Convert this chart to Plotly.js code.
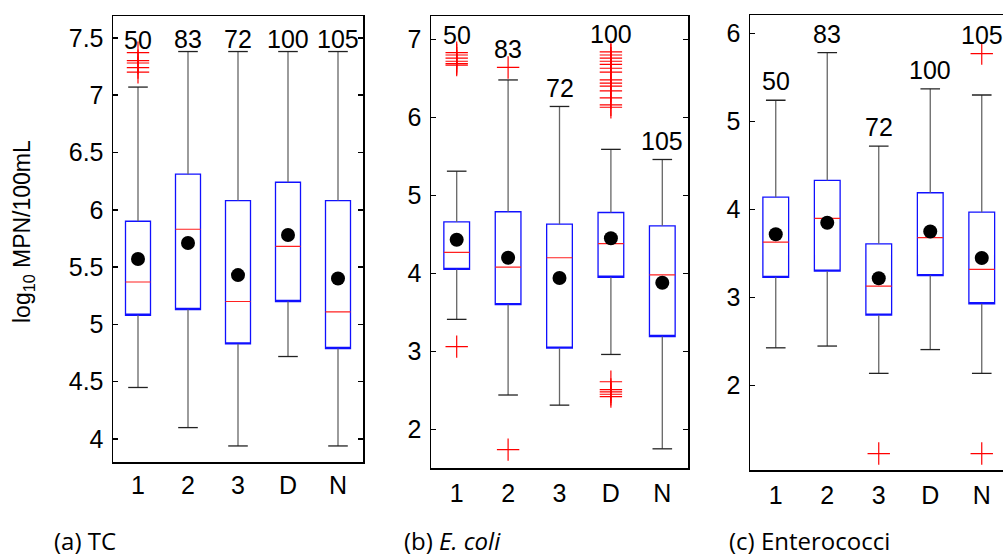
<!DOCTYPE html>
<html><head><meta charset="utf-8">
<script src="https://cdn.plot.ly/plotly-3.0.1.min.js"></script>
<style>html,body{margin:0;padding:0;overflow:hidden;background:#fff}#chart{width:1010px;height:558px}</style>
</head><body><div id="chart"></div>
<script>
const categories = ['1','2','3','D','N'];
const counts = [50, 83, 72, 100, 105];

// (a) TC
const tcQ1     = [5.08, 5.13, 4.83, 5.20, 4.79];
const tcMedian = [5.37, 5.83, 5.20, 5.68, 5.11];
const tcQ3     = [5.90, 6.31, 6.08, 6.24, 6.08];
const tcLower  = [4.45, 4.10, 3.94, 4.72, 3.94];
const tcUpper  = [7.07, 7.38, 7.38, 7.38, 7.38];
const tcMean   = [5.57, 5.71, 5.43, 5.78, 5.40];
const tcOutliers = [[7.37, 7.30, 7.28, 7.24, 7.20], [], [], [], []];

// (b) E. coli
const ecQ1     = [4.05, 3.60, 3.04, 3.95, 3.19];
const ecMedian = [4.27, 4.08, 4.20, 4.38, 3.98];
const ecQ3     = [4.66, 4.79, 4.63, 4.78, 4.61];
const ecLower  = [3.41, 2.44, 2.31, 2.96, 1.75];
const ecUpper  = [5.31, 6.48, 6.14, 5.59, 5.46];
const ecMean   = [4.43, 4.20, 3.94, 4.45, 3.88];
const ecOutliers = [
  [6.83, 6.80, 6.76, 6.72, 6.69, 6.67, 3.06],
  [6.64, 1.74],
  [],
  [6.84, 6.80, 6.76, 6.72, 6.68, 6.63, 6.58, 6.48, 6.44, 6.40, 6.34, 6.25, 6.16, 6.13, 2.61, 2.51, 2.48, 2.45, 2.42],
  []
];

// (c) Enterococci
const enQ1     = [3.23, 3.30, 2.80, 3.25, 2.93];
const enMedian = [3.63, 3.90, 3.13, 3.68, 3.32];
const enQ3     = [4.14, 4.33, 3.61, 4.19, 3.97];
const enLower  = [2.43, 2.45, 2.14, 2.41, 2.14];
const enUpper  = [5.24, 5.78, 4.72, 5.37, 5.30];
const enMean   = [3.72, 3.85, 3.22, 3.75, 3.45];
const enOutliers = [[], [], [1.23], [], [5.77, 1.23]];

const yTickVals = {
  a: [4, 4.5, 5, 5.5, 6, 6.5, 7, 7.5],
  b: [2, 3, 4, 5, 6, 7],
  c: [2, 3, 4, 5, 6]
};
const captions = ['(a) TC', '(b) <i>E. coli</i>', '(c) Enterococci'];
const yTitle = 'log<sub>10</sub> MPN/100mL';

const W = 1010, H = 558;
const FONT = 'Liberation Sans, Arial, sans-serif';

const panels = [
  {q1: tcQ1, med: tcMedian, q3: tcQ3, lo: tcLower, hi: tcUpper, mean: tcMean, out: tcOutliers,
   ticks: yTickVals.a, range: [3.8, 7.69], px: [113, 363], py: [16, 462], labShift: 10, xStand: 0},
  {q1: ecQ1, med: ecMedian, q3: ecQ3, lo: ecLower, hi: ecUpper, mean: ecMean, out: ecOutliers,
   ticks: yTickVals.b, range: [1.504, 7.30], px: [431, 688], py: [16, 468], labShift: 15, xStand: 2},
  {q1: enQ1, med: enMedian, q3: enQ3, lo: enLower, hi: enUpper, mean: enMean, out: enOutliers,
   ticks: yTickVals.c, range: [1.043, 6.208], px: [750, 1007.5], py: [15, 470], labShift: 16, xStand: 2}
];

const traces = [];
const layout = {
  width: W, height: H, margin: {l: 0, r: 0, t: 0, b: 0},
  paper_bgcolor: '#fff', plot_bgcolor: '#fff', showlegend: false,
  font: {family: FONT, size: 25, color: '#000'},
  annotations: []
};

panels.forEach((p, i) => {
  const n = i === 0 ? '' : String(i + 1);
  const xa = 'x' + n, ya = 'y' + n;
  const common = {xaxis: xa, yaxis: ya, hoverinfo: 'skip'};

  // blue boxes
  traces.push(Object.assign({
    type: 'box', x: categories, q1: p.q1, median: p.q1, q3: p.q3,
    lowerfence: p.q1, upperfence: p.q3, width: 0.5, whiskerwidth: 0,
    boxpoints: false, fillcolor: 'rgba(255,255,255,0)',
    line: {color: '#1010ff', width: 1.3}
  }, common));
  // red medians
  traces.push(Object.assign({
    type: 'box', x: categories, q1: p.med, median: p.med, q3: p.med,
    lowerfence: p.med, upperfence: p.med, width: 0.5, whiskerwidth: 0,
    boxpoints: false, fillcolor: 'rgba(255,255,255,0)',
    line: {color: '#ff2020', width: 1.2}
  }, common));
  // whiskers
  const wx = [], wy = [];
  categories.forEach((c, k) => {
    wx.push(c, c, null, c, c, null);
    wy.push(p.q3[k], p.hi[k], null, p.q1[k], p.lo[k], null);
  });
  traces.push(Object.assign({
    type: 'scatter', mode: 'lines', x: wx, y: wy,
    line: {color: '#666', width: 1.3}
  }, common));
  // caps
  traces.push(Object.assign({
    type: 'scatter', mode: 'markers', x: categories.concat(categories), y: p.hi.concat(p.lo),
    marker: {symbol: 'line-ew', size: 14, line: {color: '#222', width: 1.3}}
  }, common));
  // outliers
  const ox = [], oy = [];
  p.out.forEach((arr, k) => arr.forEach(v => { ox.push(categories[k]); oy.push(v); }));
  traces.push(Object.assign({
    type: 'scatter', mode: 'markers', x: ox, y: oy,
    marker: {symbol: 'cross-thin', size: 16, line: {color: '#ff0000', width: 1.2}}
  }, common));
  // means
  traces.push(Object.assign({
    type: 'scatter', mode: 'markers', x: categories, y: p.mean,
    marker: {symbol: 'circle', size: 14, color: '#000'}
  }, common));

  layout['xaxis' + n] = {
    domain: [p.px[0] / W, p.px[1] / W], anchor: ya,
    type: 'category', categoryarray: categories, range: [-0.5, 4.5],
    showline: true, linecolor: '#000', linewidth: 1.5, mirror: true,
    ticks: '', showgrid: false, zeroline: false, fixedrange: true,
    tickfont: {family: FONT, size: 25}, ticklabelstandoff: p.xStand
  };
  layout['yaxis' + n] = {
    domain: [1 - p.py[1] / H, 1 - p.py[0] / H], anchor: xa,
    range: p.range, tickvals: p.ticks, ticktext: p.ticks.map(String),
    showline: true, linecolor: '#000', linewidth: 1.5, mirror: 'ticks',
    ticks: 'inside', ticklen: 5, tickwidth: 1.5, tickcolor: '#000',
    showgrid: false, zeroline: false, fixedrange: true,
    tickfont: {family: FONT, size: 25}, ticklabelstandoff: 3
  };

  // count labels (x given as category index)
  categories.forEach((c, k) => {
    const top = Math.max(p.hi[k], ...p.out[k]);
    layout.annotations.push({
      xref: xa, yref: ya, x: k, y: top, text: String(counts[k]),
      showarrow: false, yanchor: 'middle', yshift: p.labShift + 3,
      font: {family: FONT, size: 25, color: '#000'}
    });
  });
});

const capX = [52, 402, 727];
captions.forEach((t, i) => {
  layout.annotations.push({
    xref: 'paper', yref: 'paper', x: capX[i] / W, y: 1 - 540 / H,
    xanchor: 'left', yanchor: 'middle', text: t, showarrow: false,
    font: {family: 'Open Sans, sans-serif', size: 24, color: '#000'}
  });
});
layout.annotations.push({
  xref: 'paper', yref: 'paper', x: 24 / W, y: 1 - 232 / H,
  xanchor: 'center', yanchor: 'middle', textangle: -90, text: yTitle, showarrow: false,
  font: {family: FONT, size: 23, color: '#000'}
});

Plotly.newPlot('chart', traces, layout, {staticPlot: true, displayModeBar: false});
</script></body></html>
